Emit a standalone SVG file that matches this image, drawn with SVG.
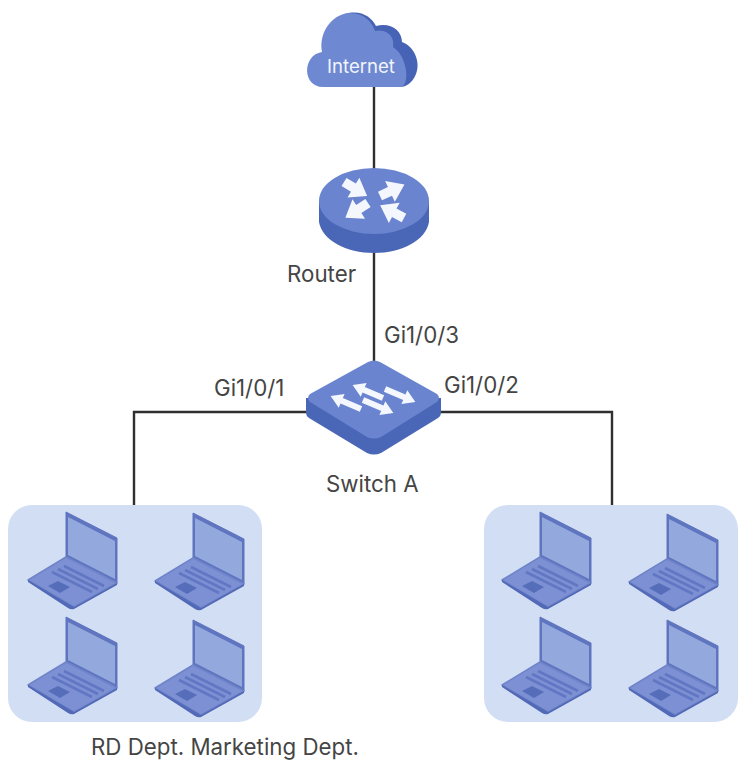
<svg xmlns="http://www.w3.org/2000/svg" width="740" height="762" viewBox="0 0 740 762">
<style>
text{font-family:"Inter","Liberation Sans",sans-serif;font-size:22.3px;fill:#454545}
.line{fill:none;stroke:#2f2f2f;stroke-width:2.4}
.panel{fill:#d2def4}
.arrow{fill:#f4f7fd}
</style>
<defs>
<path id="rarrow" d="M0 -4.800H11V-11.500L27 0L11 11.500V4.800H0Z"/>
<path id="sarrow" d="M0 -3H21V-7.500L33 0L21 7.500V3H0Z"/>
<g id="laptop">
<path d="M0 0L51 26V71L0 45Z" fill="#5f75bf" stroke="#5f75bf" stroke-width="1" stroke-linejoin="round"/>
<path d="M2 5L49 29V67L2 43Z" fill="#93a9de"/>
<path d="M0 45L51 71L8 95L-38 68Z" fill="#7c90d3" stroke="#6f84c9" stroke-width="1.5" stroke-linejoin="round"/>
<path d="M-38 68L8 95L51 71V73L8 97Q5 98 2 96L-38 70Z" fill="#5269b7"/>
<path d="M-2 54L38 74M-8 57L32 77M-14 60L26 80" stroke="#6177c3" stroke-width="2.6" fill="none"/>
<path d="M-18 74L-8 69L4 75L-6 81Z" fill="#566dba"/>
</g>
</defs>
<rect width="740" height="762" fill="#fff"/>
<g id="connectors">
<path class="line" d="M374 85V170"/>
<path class="line" d="M374 250V362"/>
<path class="line" d="M306 412H134V505"/>
<path class="line" d="M438 412H612V505"/>
</g>
<g id="internet">
<path d="M345 14C360 9 372 17 376 26C390 22 402 30 402 42C414 46 421 62 416 74C412 84 405 87 400 87H340Z" fill="#4663b5"/>
<path d="M323 87C302 87 302 55 322 52C318 30 335 13 350 13C364 13 372 22 375 31C388 28 395 38 393 47C407 56 410 82 402 87Z" fill="#6e88d2"/>
<text x="361" y="72.500" text-anchor="middle" style="font-size:18.600px;fill:#f2f5fc">Internet</text>
</g>
<g id="router">
<path d="M319 201V222C322 240 346 253 374 253C402 253 426 240 429 222V201Z" fill="#4a66b6"/>
<ellipse cx="374" cy="201" rx="55" ry="33" fill="#6a84d0"/>
<use class="arrow" href="#rarrow" transform="translate(344 182) rotate(31)"/>
<use class="arrow" href="#rarrow" transform="translate(380 196) rotate(-25)"/>
<use class="arrow" href="#rarrow" transform="translate(368 203) rotate(147)"/>
<use class="arrow" href="#rarrow" transform="translate(404 218) rotate(208)"/>
</g>
<g id="switchA">
<path d="M306 398V413Q306 416 309 418L367 453Q374 456 381 453L438 418Q441 416 441 413V398Z" fill="#4a66b6"/>
<path d="M310 394L368 362Q374 359 380 362L437 394Q441 398 437 402L381 437Q374 440 367 437L310 402Q306 398 310 394Z" fill="#6a84d0"/>
<use class="arrow" href="#sarrow" transform="translate(361 409) rotate(203)"/>
<use class="arrow" href="#sarrow" transform="translate(363 400) rotate(23)"/>
<use class="arrow" href="#sarrow" transform="translate(383 398) rotate(203)"/>
<use class="arrow" href="#sarrow" transform="translate(385 389) rotate(23)"/>
</g>
<g id="rd-dept">
<rect class="panel" x="8" y="505" width="254" height="217" rx="24"/>
<use href="#laptop" x="66" y="512"/>
<use href="#laptop" x="193" y="513"/>
<use href="#laptop" x="66" y="617"/>
<use href="#laptop" x="193" y="620"/>
</g>
<g id="marketing-dept">
<rect class="panel" x="484" y="505" width="254" height="217" rx="24"/>
<use href="#laptop" x="540" y="512"/>
<use href="#laptop" x="667" y="514"/>
<use href="#laptop" x="540" y="617"/>
<use href="#laptop" x="667" y="620"/>
</g>
<g id="labels">
<text x="287" y="282">Router</text>
<text x="384" y="343">Gi1/0/3</text>
<text x="214" y="396">Gi1/0/1</text>
<text x="444" y="393">Gi1/0/2</text>
<text x="326" y="492">Switch A</text>
<text x="91" y="755">RD Dept. Marketing Dept.</text>
</g>
</svg>
